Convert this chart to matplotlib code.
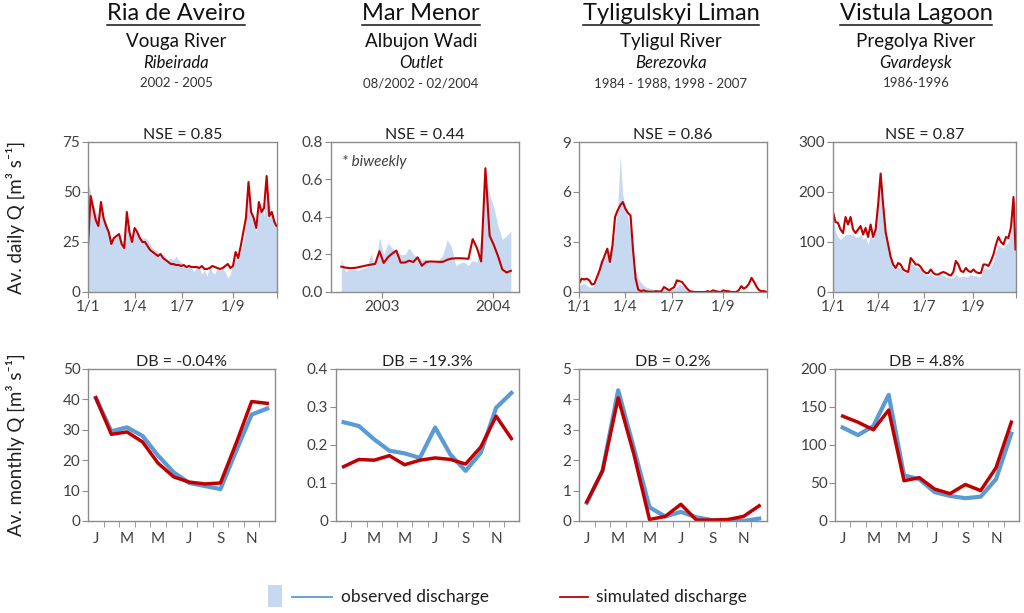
import numpy as np
import pandas as pd
import matplotlib
matplotlib.use('Agg')
import matplotlib.pyplot as plt
import matplotlib.dates as mdates
from matplotlib.patches import Rectangle
from matplotlib.lines import Line2D

plt.rcParams['font.family'] = ['Lato', 'DejaVu Sans']

# ---- data ----
# daily panels: day of year, sampled every 5 days
days = list(range(0, 365, 5)) + [364]

aveiro_obs = [55, 50, 45, 40, 38, 42, 38, 35, 30, 27,
              27, 28, 28, 26, 25, 35, 32, 27, 30, 30,
              28, 27, 27, 26, 24, 22, 21, 20, 18, 19,
              17, 16, 17, 16, 18, 16, 15, 14, 13, 14,
              12, 10, 13, 12, 9, 11, 8, 13, 10, 9,
              12, 11, 12, 10, 7, 9, 15, 17, 18, 20,
              25, 38, 50, 40, 35, 30, 40, 45, 38, 52,
              45, 40, 35, 32]
aveiro_sim = [23, 48, 42, 36, 33, 45, 37, 33, 30, 24,
              27, 28, 29, 24, 22, 40, 30, 25, 32, 30,
              27, 25, 25, 23, 21, 20, 19, 18, 19, 17,
              16, 15, 14, 14, 13.5, 13.5, 13, 13.5, 12.5, 13,
              12.5, 12.5, 12.5, 12, 13, 11.5, 11.5, 12, 13, 12.5,
              12, 11.5, 12, 13, 14, 12, 13, 20, 17, 23,
              30, 37, 55, 40, 37, 32, 45, 40, 42, 58,
              38, 40, 35, 33]

tyligul_obs = [0.3, 0.5, 0.5, 0.4, 0.3, 0.3, 0.4, 0.6, 1.9, 2.0,
               2.0, 2.3, 2.5, 3.0, 3.5, 5.0, 8.2, 5.8, 5.2, 4.5,
               3.5, 2.0, 1.2, 0.8, 0.6, 0.4, 0.3, 0.25, 0.2, 0.15,
               0.1, 0.15, 0.1, 0.15, 0.1, 0.1, 0.15, 0.2, 0.3, 0.5,
               0.4, 0.3, 0.1, 0.05, 0, 0, 0, 0, 0, 0,
               0, 0, 0, 0, 0, 0, 0, 0, 0, 0,
               0, 0, 0, 0, 0, 0, 0, 0, 0, 0,
               0, 0, 0, 0]
tyligul_sim = [0.5, 0.8, 0.75, 0.8, 0.7, 0.45, 0.5, 0.9, 1.3, 1.8,
               2.2, 2.6, 1.8, 2.8, 4.5, 4.9, 5.2, 5.4, 5.0, 4.75,
               4.6, 2.5, 0.8, 0.15, 0.05, 0.1, 0.05, 0.02, 0.02, 0.02,
               0.05, 0.02, 0.05, 0.3, 0.2, 0.1, 0.2, 0.3, 0.7, 0.65,
               0.6, 0.4, 0.2, 0.05, 0.02, 0, 0, 0, 0, 0,
               0.05, 0, 0.1, 0.05, 0.02, 0, 0.1, 0.05, 0.05, 0,
               0, 0, 0.1, 0.35, 0.2, 0.3, 0.5, 0.85, 0.6, 0.3,
               0.1, 0.05, 0.05, 0]

vistula_obs = [155, 120, 110, 105, 110, 115, 115, 115, 115, 110,
               110, 115, 105, 110, 95, 115, 105, 130, 200, 220,
               170, 120, 90, 65, 50, 45, 50, 48, 40, 40,
               38, 55, 55, 50, 48, 45, 38, 35, 33, 38,
               32, 30, 32, 33, 35, 30, 30, 28, 30, 35,
               30, 30, 32, 30, 32, 35, 32, 33, 30, 32,
               45, 48, 45, 50, 60, 80, 95, 90, 88, 95,
               100, 115, 180, 180]
vistula_sim = [160, 140, 138, 125, 118, 150, 135, 150, 125, 118,
               125, 132, 115, 128, 110, 135, 110, 125, 175, 237,
               175, 120, 95, 70, 55, 48, 58, 55, 45, 42,
               40, 68, 62, 55, 55, 50, 42, 38, 38, 45,
               38, 35, 35, 38, 40, 38, 35, 33, 40, 62,
               55, 42, 40, 48, 42, 40, 45, 40, 38, 38,
               55, 55, 52, 62, 75, 95, 110, 100, 95, 110,
               108, 130, 190, 85]

# Mar Menor: biweekly values 08/2002 - 03/2004
menor_dates = pd.date_range('2002-08-19', periods=41, freq='14D')
menor_obs = [0.175, 0.11, 0.12, 0.12, 0.115, 0.125, 0.13, 0.205, 0.13, 0.29,
             0.2, 0.26, 0.235, 0.21, 0.2, 0.2, 0.235, 0.2, 0.185, 0.175,
             0.175, 0.165, 0.16, 0.17, 0.2, 0.28, 0.24, 0.14, 0.155, 0.16,
             0.14, 0.17, 0.16, 0.3, 0.62, 0.52, 0.45, 0.35, 0.28, 0.3, 0.325]
menor_sim = [0.135, 0.13, 0.127, 0.128, 0.132, 0.137, 0.142, 0.146, 0.15, 0.218,
             0.155, 0.185, 0.205, 0.221, 0.157, 0.157, 0.167, 0.16, 0.185, 0.14,
             0.16, 0.163, 0.162, 0.161, 0.161, 0.172, 0.178, 0.18, 0.18, 0.179,
             0.177, 0.282, 0.235, 0.163, 0.66, 0.3, 0.25, 0.19, 0.12, 0.104, 0.113]

# monthly averages
months = ['J', 'F', 'M', 'A', 'M', 'J', 'J', 'A', 'S', 'O', 'N', 'D']
aveiro_mon_obs = [40.5, 29.5, 30.8, 28, 21.5, 16, 12.5, 11.5, 10.5, 23, 35, 37]
aveiro_mon_sim = [40.5, 28.5, 29.3, 26, 19, 14.5, 12.8, 12.2, 12.5, 25.5, 39.3, 38.7]
menor_mon_obs = [0.26, 0.25, 0.215, 0.185, 0.178, 0.166, 0.246, 0.175, 0.132, 0.18, 0.298, 0.337]
menor_mon_sim = [0.143, 0.162, 0.16, 0.172, 0.148, 0.16, 0.166, 0.162, 0.15, 0.195, 0.276, 0.217]
tyligul_mon_obs = [0.6, 1.65, 4.3, 2.4, 0.45, 0.15, 0.3, 0.12, 0.03, 0.02, 0.0, 0.08]
tyligul_mon_sim = [0.63, 1.65, 4.05, 2.2, 0.05, 0.15, 0.55, 0.03, 0.03, 0.05, 0.15, 0.5]
vistula_mon_obs = [123, 113, 125, 166, 60, 55, 38, 33, 30, 32, 55, 115]
vistula_mon_sim = [138, 130, 120, 146, 53, 57, 42, 36, 48, 40, 70, 130]

lagoons = ['Ria de Aveiro', 'Mar Menor', 'Tyligulskyi Liman', 'Vistula Lagoon']
rivers = ['Vouga River', 'Albujon Wadi', 'Tyligul River', 'Pregolya River']
stations = ['Ribeirada', 'Outlet', 'Berezovka', 'Gvardeysk']
periods = ['2002 - 2005', '08/2002 - 02/2004', '1984 - 1988, 1998 - 2007', '1986-1996']
nse = ['NSE = 0.85', 'NSE = 0.44', 'NSE = 0.86', 'NSE = 0.87']
db = ['DB = -0.04%', 'DB = -19.3%', 'DB = 0.2%', 'DB = 4.8%']

# ---- figure ----
W, H = 1024, 613
fig = plt.figure(figsize=(W / 100, H / 100), dpi=100)

FILL = '#c6d9f1'
BLUE = '#5b9bd5'
RED = '#c00000'
GREY = '#8c8c8c'
TXT = '#404040'


def box(l, t, w, h):
    return fig.add_axes([l / W, 1 - (t + h) / H, w / W, h / H])


def style(ax):
    for s in ax.spines.values():
        s.set_color(GREY)
        s.set_linewidth(1.0)
    ax.tick_params(which='both', colors=GREY, labelcolor=TXT, labelsize=11,
                   length=4, direction='out', pad=1.5)


# top row: daily
top_pos = [(88, 142, 189, 150), (331, 142, 188, 150), (579, 142, 188, 150), (833, 142, 183, 150)]
top_ax = [box(*p) for p in top_pos]

daily = [(aveiro_obs, aveiro_sim, [0, 25, 50, 75], ['0', '25', '50', '75']),
         None,
         (tyligul_obs, tyligul_sim, [0, 3, 6, 9], ['0', '3', '6', '9']),
         (vistula_obs, vistula_sim, [0, 100, 200, 300], ['0', '100', '200', '300'])]

for i, ax in enumerate(top_ax):
    if daily[i] is not None:
        obs, sim, yt, yl = daily[i]
        ax.fill_between(days, 0, obs, color=FILL, lw=0)
        ax.plot(days, sim, color=RED, lw=1.5)
        ax.set_xlim(0, 365)
        ax.set_xticks([0, 90, 181, 280, 365])
        ax.set_xticklabels(['1/1', '1/4', '1/7', '1/9', ''])
    else:
        ax.fill_between(menor_dates, 0, menor_obs, color=FILL, lw=0)
        ax.plot(menor_dates, menor_sim, color=RED, lw=1.5)
        ax.set_xlim(pd.Timestamp('2002-07-16'), pd.Timestamp('2004-03-28'))
        ax.set_xticks([pd.Timestamp('2003-01-01'), pd.Timestamp('2004-01-01')])
        ax.xaxis.set_major_formatter(mdates.DateFormatter('%Y'))
        yt = [0, 0.2, 0.4, 0.6, 0.8]
        yl = ['0.0', '0.2', '0.4', '0.6', '0.8']
        ax.text(0.06, 0.865, '* biweekly', transform=ax.transAxes, style='italic',
                fontsize=11, color=TXT, va='center')
    ax.set_ylim(yt[0], yt[-1])
    ax.set_yticks(yt)
    ax.set_yticklabels(yl)
    ax.set_title(nse[i], fontsize=11.5, pad=2, color='#202020')
    style(ax)

# bottom row: monthly
bot_pos = [(88, 369, 187, 152), (336, 369, 183, 152), (579, 369, 188, 152), (835, 369, 184, 152)]
bot_ax = [box(*p) for p in bot_pos]

monthly = [(aveiro_mon_obs, aveiro_mon_sim, [0, 10, 20, 30, 40, 50], ['0', '10', '20', '30', '40', '50']),
           (menor_mon_obs, menor_mon_sim, [0, 0.1, 0.2, 0.3, 0.4], ['0', '0.1', '0.2', '0.3', '0.4']),
           (tyligul_mon_obs, tyligul_mon_sim, [0, 1, 2, 3, 4, 5], ['0', '1', '2', '3', '4', '5']),
           (vistula_mon_obs, vistula_mon_sim, [0, 50, 100, 150, 200], ['0', '50', '100', '150', '200'])]

x = np.arange(12)
for i, ax in enumerate(bot_ax):
    obs, sim, yt, yl = monthly[i]
    ax.plot(x, obs, color=BLUE, lw=3)
    ax.plot(x, sim, color=RED, lw=2.5)
    ax.set_xlim(-0.5, 11.5)
    ax.set_ylim(yt[0], yt[-1])
    ax.set_yticks(yt)
    ax.set_yticklabels(yl)
    ax.set_xticks(x[::2])
    ax.set_xticklabels(months[::2])
    ax.set_xticks(np.arange(0.5, 11, 1), minor=True)
    ax.set_title(db[i], fontsize=11.5, pad=2, color='#202020')
    style(ax)
    ax.tick_params(axis='x', which='major', length=0, pad=8)

# y axis labels
fig.text(15 / W, 1 - 217 / H, 'Av. daily Q [m³ s⁻¹]', rotation=90, fontsize=13.5,
         ha='center', va='center', color='#202020')
fig.text(15 / W, 1 - 445 / H, 'Av. monthly Q [m³ s⁻¹]', rotation=90, fontsize=13.5,
         ha='center', va='center', color='#202020')

# column headers
head_x = [176, 421, 671, 916]
titles = []
for i in range(4):
    cx = head_x[i] / W
    titles.append(fig.text(cx, 1 - 13 / H, lagoons[i], fontsize=17, ha='center', va='center', color='#111111'))
    fig.text(cx, 1 - 42 / H, rivers[i], fontsize=13.5, ha='center', va='center', color='#111111')
    fig.text(cx, 1 - 63 / H, stations[i], fontsize=12, style='italic', ha='center', va='center', color='#111111')
    fig.text(cx, 1 - 83 / H, periods[i], fontsize=9.5, ha='center', va='center', color='#333333')

# legend
fig.add_artist(Rectangle((268 / W, 1 - 607 / H), 14 / W, 22 / H, transform=fig.transFigure,
                         facecolor=FILL, edgecolor='none'))
fig.add_artist(Line2D([292 / W, 332 / W], [1 - 597 / H] * 2, transform=fig.transFigure, color=BLUE, lw=1.3))
fig.text(341 / W, 1 - 597 / H, 'observed discharge', fontsize=12.5, va='center', color='#202020')
fig.add_artist(Line2D([560 / W, 588 / W], [1 - 597 / H] * 2, transform=fig.transFigure, color=RED, lw=1.3))
fig.text(596 / W, 1 - 597 / H, 'simulated discharge', fontsize=12.5, va='center', color='#202020')

# underline the lagoon names
fig.canvas.draw()
for t in titles:
    bb = t.get_window_extent()
    y = bb.y0 - 1
    fig.add_artist(Line2D([bb.x0 / W, bb.x1 / W], [y / H, y / H], transform=fig.transFigure,
                          color='#111111', lw=1.1))

fig.savefig('out.png', dpi=100)
